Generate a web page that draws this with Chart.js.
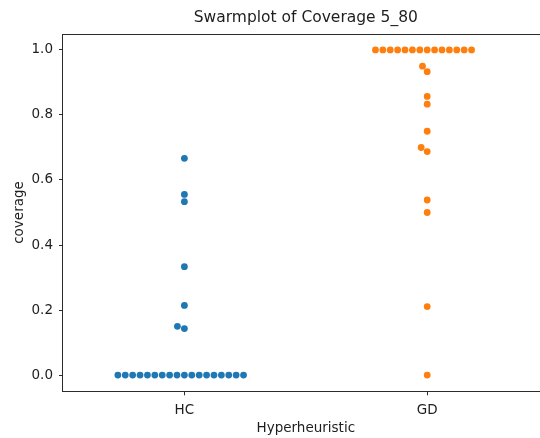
<!DOCTYPE html>
<html>
<head>
<meta charset="utf-8">
<script src="https://cdn.jsdelivr.net/npm/chart.js@4.4.1/dist/chart.umd.min.js"></script>
<style>
  html, body { margin: 0; padding: 0; background: #ffffff; overflow: hidden; }
  canvas { display: block; }
</style>
</head>
<body>
<canvas id="c" width="552" height="438" style="width:552px;height:438px"></canvas>
<script>
// ---- data ----
const categories = ['HC', 'GD'];
const hcValues = [0, 0, 0, 0, 0, 0, 0, 0, 0, 0, 0, 0, 0, 0, 0, 0, 0, 0,
                  0.1429, 0.15, 0.2143, 0.3333, 0.5333, 0.5556, 0.6667];
const gdValues = [0, 0.2105, 0.5, 0.5385, 0.6875, 0.70, 0.75, 0.8333, 0.8571, 0.9333, 0.95,
                  1, 1, 1, 1, 1, 1, 1, 1, 1, 1, 1, 1, 1, 1];
const yTickValues = [0.0, 0.2, 0.4, 0.6, 0.8, 1.0];
const seriesColors = ['#1f77b4', '#ff7f0e'];

const FONT = "'DejaVu Sans', 'Liberation Sans', sans-serif";
const TEXT = '#1e1e1e';
const SPINE = '#2b2b2b';
const MARK_R = 3.4;     // drawn radius
const SWARM_R = 3.52;   // radius used for non-overlap (seaborn-like spacing)

const series = [hcValues, gdValues];

const frame = {
  id: 'frame',
  afterDatasetsDraw(chart) {
    const a = chart.chartArea, ctx = chart.ctx;
    ctx.save();
    ctx.strokeStyle = SPINE;
    ctx.lineWidth = 1;
    ctx.strokeRect(Math.round(a.left) - 0.5, Math.round(a.top) + 0.5,
                   Math.round(a.right - a.left) + 1, Math.round(a.bottom - a.top) - 1);
    ctx.restore();
  }
};

const chart = new Chart(document.getElementById('c'), {
  type: 'scatter',
  data: {
    datasets: series.map((vals, ci) => ({
      label: categories[ci],
      data: vals.map(v => ({ x: ci, y: v })),
      backgroundColor: seriesColors[ci],
      borderWidth: 0,
      pointRadius: MARK_R,
      pointHoverRadius: MARK_R
    }))
  },
  options: {
    responsive: false,
    animation: false,
    layout: { padding: { left: 0, right: 2, top: 0, bottom: 0 } },
    plugins: {
      legend: { display: false },
      tooltip: { enabled: false },
      title: {
        display: true,
        text: 'Swarmplot of Coverage 5_80',
        fullSize: false,
        color: TEXT,
        font: { family: FONT, size: 15.5, weight: 'normal', lineHeight: 1.2 },
        padding: { top: 8.5, bottom: 6.6 }
      }
    },
    scales: {
      x: {
        type: 'linear',
        min: -0.5,
        max: 1.5,
        afterBuildTicks: s => { s.ticks = categories.map((_, i) => ({ value: i })); },
        afterFit: s => { s.height = 46.7; },
        ticks: {
          color: TEXT,
          font: { family: FONT, size: 13.5 },
          padding: 7,
          callback: v => categories[v]
        },
        grid: { display: true, drawOnChartArea: false, drawTicks: true, tickLength: 4, tickColor: SPINE },
        border: { display: false },
        title: {
          display: true,
          text: 'Hyperheuristic',
          color: TEXT,
          font: { family: FONT, size: 13.5, lineHeight: 1.2 },
          padding: { top: 0, bottom: 1.5 }
        }
      },
      y: {
        type: 'linear',
        min: -0.05,
        max: 1.05,
        afterBuildTicks: s => { s.ticks = yTickValues.map(v => ({ value: v })); },
        afterFit: s => { s.width = 63; },
        ticks: {
          color: TEXT,
          font: { family: FONT, size: 13.5 },
          padding: 6,
          callback: v => Number(v).toFixed(1)
        },
        grid: { display: true, drawOnChartArea: false, drawTicks: true, tickLength: 4, tickColor: SPINE },
        border: { display: false },
        title: {
          display: true,
          text: 'coverage',
          color: TEXT,
          font: { family: FONT, size: 13.5, lineHeight: 1.2 },
          padding: { top: 11, bottom: 0 }
        }
      }
    }
  },
  plugins: [frame]
});

// ---- beeswarm layout computed in pixel space from the library's scales ----
function swarmX(values, ci) {
  const xs = chart.scales.x, ys = chart.scales.y;
  const xc = xs.getPixelForValue(ci);
  const d = 2 * SWARM_R;
  const order = values.map((v, i) => i).sort((a, b) => values[a] - values[b] || a - b);
  const placed = [];
  const out = new Array(values.length);
  for (const i of order) {
    const y = ys.getPixelForValue(values[i]);
    const cands = [xc];
    for (const p of placed) {
      const dy = p.y - y;
      if (Math.abs(dy) < d) {
        const dx = Math.sqrt(d * d - dy * dy) * 1.05;
        cands.push(p.x - dx, p.x + dx);
      }
    }
    cands.sort((a, b) => (Math.abs(a - xc) - Math.abs(b - xc)) || (a - b));
    let chosen = cands[cands.length - 1];
    for (const c of cands) {
      if (placed.every(p => Math.hypot(c - p.x, y - p.y) >= d - 1e-6)) { chosen = c; break; }
    }
    placed.push({ x: chosen, y });
    out[i] = { x: xs.getValueForPixel(chosen), y: values[i] };
  }
  return out;
}
series.forEach((vals, ci) => { chart.data.datasets[ci].data = swarmX(vals, ci); });
chart.update('none');
</script>
</body>
</html>
